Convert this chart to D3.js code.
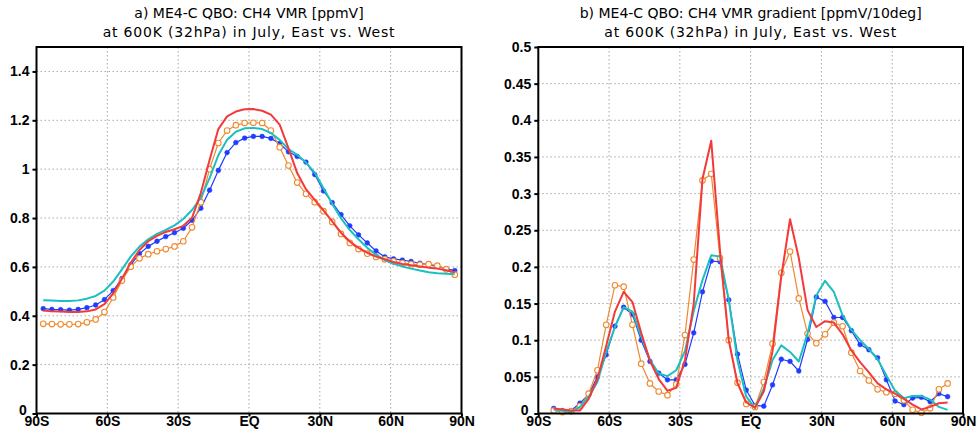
<!DOCTYPE html>
<html>
<head>
<meta charset="UTF-8">
<title>CH4 VMR</title>
<script src="https://cdn.jsdelivr.net/npm/d3@7"></script>
<style>
  body { margin: 0; padding: 0; background: #fff; }
  svg { display: block; }
  .title { font-family: "DejaVu Sans", sans-serif; font-size: 14px; fill: #000; }
  .title.sub { letter-spacing: 0.8px; }
  .tick text { font-family: "Liberation Sans", sans-serif; font-weight: bold; font-size: 14px; fill: #000; }
</style>
</head>
<body>
<div id="chart"></div>
<script>
// T31 gaussian latitudes, south to north
const lats = [-87.159, -83.479, -79.777, -76.070, -72.362, -68.652, -64.942, -61.232,
  -57.521, -53.810, -50.099, -46.389, -42.678, -38.967, -35.256, -31.545,
  -27.833, -24.122, -20.411, -16.700, -12.989, -9.278, -5.567, -1.856,
  1.856, 5.567, 9.278, 12.989, 16.700, 20.411, 24.122, 27.833,
  31.545, 35.256, 38.967, 42.678, 46.389, 50.099, 53.810, 57.521,
  61.232, 64.942, 68.652, 72.362, 76.070, 79.777, 83.479, 87.159];
// gradient is on the inner latitudes
const gradLats = lats.slice(1, 47);

// panel a: CH4 VMR [ppmV]
const vmrBlue = [0.429, 0.426, 0.425, 0.423, 0.426, 0.433, 0.444, 0.466, 0.503, 0.552, 0.608, 0.654,
  0.684, 0.705, 0.724, 0.740, 0.758, 0.791, 0.840, 0.914, 0.995, 1.068, 1.109, 1.127,
  1.134, 1.134, 1.126, 1.105, 1.071, 1.052, 1.029, 0.978, 0.911, 0.863, 0.814, 0.768,
  0.731, 0.698, 0.665, 0.641, 0.633, 0.628, 0.622, 0.615, 0.609, 0.602, 0.593, 0.585];
const vmrOrange = [0.367, 0.366, 0.365, 0.365, 0.366, 0.373, 0.385, 0.415, 0.475, 0.544, 0.601, 0.635,
  0.652, 0.664, 0.673, 0.684, 0.705, 0.762, 0.865, 1.000, 1.107, 1.158, 1.180, 1.189,
  1.190, 1.189, 1.158, 1.090, 1.015, 0.945, 0.899, 0.865, 0.828, 0.784, 0.735, 0.698,
  0.673, 0.654, 0.641, 0.631, 0.623, 0.616, 0.611, 0.609, 0.611, 0.605, 0.590, 0.568];
const vmrRed = [0.422, 0.418, 0.417, 0.415, 0.415, 0.418, 0.426, 0.448, 0.492, 0.552, 0.617, 0.669,
  0.705, 0.727, 0.743, 0.754, 0.768, 0.801, 0.902, 1.038, 1.164, 1.216, 1.236, 1.245,
  1.246, 1.239, 1.223, 1.182, 1.086, 0.984, 0.918, 0.874, 0.831, 0.786, 0.740, 0.704,
  0.678, 0.658, 0.642, 0.631, 0.620, 0.612, 0.607, 0.602, 0.597, 0.593, 0.586, 0.578];
const vmrCyan = [0.464, 0.462, 0.460, 0.460, 0.463, 0.470, 0.481, 0.503, 0.540, 0.590, 0.642, 0.683,
  0.713, 0.735, 0.751, 0.770, 0.796, 0.833, 0.883, 0.963, 1.057, 1.120, 1.153, 1.167,
  1.169, 1.164, 1.148, 1.120, 1.082, 1.059, 1.027, 0.986, 0.922, 0.858, 0.799, 0.751,
  0.713, 0.678, 0.650, 0.628, 0.613, 0.602, 0.593, 0.585, 0.578, 0.574, 0.572, 0.570];

// panel b: CH4 VMR gradient [ppmV/10deg]
const grdBlue = [0.007, 0.004, 0.004, 0.014, 0.026, 0.050, 0.080, 0.119, 0.145, 0.135, 0.100, 0.071,
  0.055, 0.046, 0.046, 0.067, 0.110, 0.166, 0.208, 0.207, 0.155, 0.081, 0.032, 0.011,
  0.010, 0.039, 0.074, 0.071, 0.058, 0.101, 0.159, 0.153, 0.131, 0.131, 0.113, 0.094,
  0.087, 0.076, 0.046, 0.017, 0.012, 0.021, 0.022, 0.016, 0.027, 0.023];
const grdOrange = [0.004, 0.002, 0.003, 0.010, 0.027, 0.059, 0.121, 0.175, 0.173, 0.121, 0.068, 0.041,
  0.030, 0.025, 0.040, 0.107, 0.210, 0.318, 0.327, 0.212, 0.100, 0.042, 0.013, 0.009,
  0.043, 0.095, 0.192, 0.221, 0.157, 0.109, 0.096, 0.108, 0.124, 0.119, 0.083, 0.058,
  0.045, 0.033, 0.029, 0.027, 0.018, 0.005, 0.001, 0.007, 0.033, 0.041];
const grdRed = [0.007, 0.0055, 0.004, 0.004, 0.020, 0.047, 0.092, 0.139, 0.166, 0.152, 0.110, 0.072,
  0.047, 0.031, 0.035, 0.073, 0.150, 0.320, 0.372, 0.222, 0.100, 0.041, 0.015, 0.008,
  0.030, 0.085, 0.187, 0.265, 0.212, 0.141, 0.118, 0.126, 0.124, 0.108, 0.086, 0.070,
  0.056, 0.041, 0.033, 0.027, 0.020, 0.012, 0.0055, 0.009, 0.014, 0.015];
const grdCyan = [0.0055, 0.0036, 0.002, 0.009, 0.023, 0.043, 0.084, 0.118, 0.145, 0.139, 0.105, 0.073,
  0.0545, 0.051, 0.059, 0.085, 0.140, 0.182, 0.216, 0.214, 0.155, 0.072, 0.023, 0.0075,
  0.034, 0.073, 0.093, 0.084, 0.071, 0.109, 0.161, 0.181, 0.166, 0.134, 0.114, 0.100,
  0.088, 0.074, 0.052, 0.031, 0.021, 0.024, 0.024, 0.019, 0.009, 0.005];

const latTicks = [-90, -60, -30, 0, 30, 60, 90];
const latLabels = ["90S", "60S", "30S", "EQ", "30N", "60N", "90N"];
const vmrTicks = [0, 0.2, 0.4, 0.6, 0.8, 1, 1.2, 1.4];
const vmrTickLabels = ["0", "0.2", "0.4", "0.6", "0.8", "1", "1.2", "1.4"];
const grdTicks = [0, 0.05, 0.1, 0.15, 0.2, 0.25, 0.3, 0.35, 0.4, 0.45, 0.5];
const grdTickLabels = ["0", "0.05", "0.1", "0.15", "0.2", "0.25", "0.3", "0.35", "0.4", "0.45", "0.5"];

const titlesA = ["a) ME4-C QBO: CH4 VMR [ppmV]", "at 600K (32hPa) in July, East vs. West"];
const titlesB = ["b) ME4-C QBO: CH4 VMR gradient [ppmV/10deg]", "at 600K (32hPa) in July, East vs. West"];

const W = 978, H = 437;
const svg = d3.select("#chart").append("svg").attr("width", W).attr("height", H);

const colBlue = "#1f3cff", colOrange = "#f0892e", colRed = "#f23a3a", colCyan = "#1bbfbf";

function panel(opt) {
  const x = d3.scaleLinear().domain([-90, 90]).range([opt.left, opt.right]);
  const y = d3.scaleLinear().domain(opt.yDomain).range([413.5, 47]);
  const g = svg.append("g");

  // grid
  g.selectAll(".vgrid").data(latTicks.slice(1, -1)).enter().append("line")
    .attr("x1", d => x(d)).attr("x2", d => x(d))
    .attr("y1", y.range()[1]).attr("y2", y.range()[0])
    .attr("stroke", "#a8a8a8").attr("stroke-width", 1).attr("stroke-dasharray", "1.5,2.5");
  g.selectAll(".hgrid").data(opt.yTicks.filter(d => d > 0 && d < opt.yDomain[1])).enter().append("line")
    .attr("x1", opt.left).attr("x2", opt.right)
    .attr("y1", d => y(d)).attr("y2", d => y(d))
    .attr("stroke", "#a8a8a8").attr("stroke-width", 1).attr("stroke-dasharray", "1.5,2.5");

  // series
  const line = d3.line().x(d => x(d[0])).y(d => y(d[1]));
  const lat = opt.lat;
  const series = [
    { v: opt.blue, c: colBlue, w: 1.2, m: "dot" },
    { v: opt.orange, c: colOrange, w: 1.2, m: "ring" },
    { v: opt.cyan, c: colCyan, w: 2, m: null },
    { v: opt.red, c: colRed, w: 2, m: null }
  ];
  series.forEach(s => {
    const pts = s.v.map((v, i) => [lat[i], v]);
    g.append("path").datum(pts).attr("d", line)
      .attr("fill", "none").attr("stroke", s.c).attr("stroke-width", s.w)
      .attr("stroke-linejoin", "round");
    if (s.m) {
      g.selectAll(null).data(pts).enter().append("circle")
        .attr("cx", d => x(d[0])).attr("cy", d => y(d[1]))
        .attr("r", s.m === "dot" ? 2.4 : 2.8)
        .attr("fill", s.m === "dot" ? s.c : "#fff")
        .attr("stroke", s.c).attr("stroke-width", s.m === "dot" ? 0.5 : 1.1);
    }
  });

  // frame
  g.append("rect").attr("x", opt.left).attr("y", 47)
    .attr("width", opt.right - opt.left).attr("height", 413.5 - 47)
    .attr("fill", "none").attr("stroke", "#000").attr("stroke-width", 2);

  // axes
  const xAxis = d3.axisBottom(x).tickValues(latTicks)
    .tickFormat((d, i) => latLabels[i]).tickSize(3).tickPadding(0);
  g.append("g").attr("class", "xaxis").attr("transform", "translate(0,413.5)").call(xAxis)
    .call(a => a.select(".domain").remove())
    .call(a => a.selectAll("line").attr("stroke-width", 2));

  const yAxis = d3.axisLeft(y).tickValues(opt.yTicks)
    .tickFormat((d, i) => opt.yLabels[i]).tickSize(4).tickPadding(3);
  g.append("g").attr("class", "yaxis").attr("transform", `translate(${opt.left},0)`).call(yAxis)
    .call(a => a.select(".domain").remove())
    .call(a => a.selectAll("line").attr("stroke-width", 2))
    // the zero label sits a little higher and left, clear of the 90S label
    .call(a => a.selectAll(".tick text").filter(d => d === 0)
      .attr("dy", "0.05em").attr("dx", "-0.2em"));

  // title
  const cx = (opt.left + opt.right) / 2;
  g.selectAll(".title").data(opt.titles).enter().append("text")
    .attr("class", (d, i) => i ? "title sub" : "title")
    .attr("x", cx).attr("y", (d, i) => 18 + i * 19)
    .attr("text-anchor", "middle").text(d => d);
}

panel({
  left: 36.5, right: 461.5, yDomain: [0, 1.5], yTicks: vmrTicks, yLabels: vmrTickLabels,
  lat: lats, blue: vmrBlue, orange: vmrOrange, red: vmrRed, cyan: vmrCyan, titles: titlesA
});
panel({
  left: 538.3, right: 963, yDomain: [0, 0.5], yTicks: grdTicks, yLabels: grdTickLabels,
  lat: gradLats, blue: grdBlue, orange: grdOrange, red: grdRed, cyan: grdCyan, titles: titlesB
});
</script>
</body>
</html>
